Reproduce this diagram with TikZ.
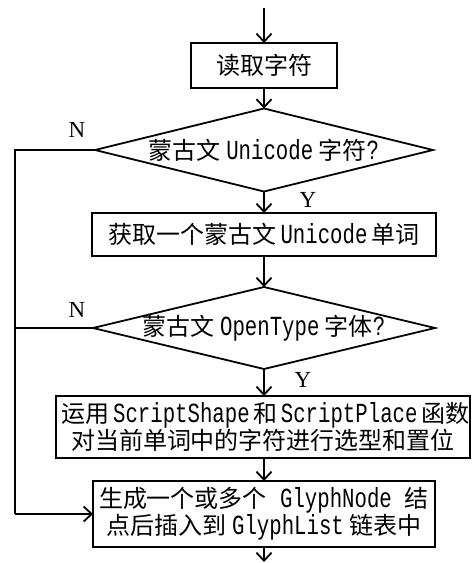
\documentclass[tikz,border=0pt]{standalone}
\usepackage{fontspec}
\setmainfont{Noto Sans CJK SC}
\newfontfamily\mono[Scale=1.15,FakeStretch=0.75]{Liberation Mono}
\newfontfamily\serifl{Liberation Serif}
\usetikzlibrary{shapes.geometric,arrows.meta}
\newcommand\lat[1]{{\mono #1}}
\begin{document}
\begin{tikzpicture}[x=1pt,y=-1pt,
  every node/.style={inner sep=0pt, outer sep=0pt},
  proc/.style={draw, line width=1.8pt, rectangle, align=center, font=\fontsize{24}{27}\selectfont},
  decision/.style={draw, line width=1.8pt, diamond, font=\fontsize{24}{27}\selectfont},
  flow/.style={line width=1.8pt, -{Straight Barb[length=8pt,width=15pt,line width=1.8pt]}},
  link/.style={line width=1.8pt},
  yn/.style={font=\serifl\fontsize{23}{23}\selectfont}
]
\useasboundingbox (0,0) rectangle (472,563);
\coordinate (top) at (264,8);
\coordinate (bot) at (264,562);
\node[proc, minimum width=146pt, minimum height=45pt] (b1) at (264,65.5) {读取字符};
\node[decision, minimum width=338pt, minimum height=83pt] (d1) at (264,150) {\makebox[0pt]{蒙古文 \lat{Unicode} 字符\lat{?}}};
\node[proc, minimum width=344pt, minimum height=43pt] (b2) at (264,234.5) {\makebox[311pt][s]{获取一个蒙古文 \lat{Unicode} 单词}};
\node[decision, minimum width=342pt, minimum height=82pt] (d2) at (264,328) {\makebox[0pt]{蒙古文 \lat{OpenType} 字体\lat{?}}};
\node[proc, minimum width=414pt, minimum height=62pt] (b3) at (263,427) {\makebox[403pt][s]{运用 \lat{ScriptShape} 和 \lat{ScriptPlace} 函数}\\对当前单词中的字符进行选型和置位};
\node[proc, minimum width=342pt, minimum height=66pt] (b4) at (264,514) {\makebox[330pt][s]{生成一个或多个 \lat{GlyphNode} 结}\\\makebox[315pt][s]{点后插入到 \lat{GlyphList} 链表中}};
\node[yn] (n1) at (77,130) {N};
\node[yn] (n2) at (77,310) {N};
\node[yn] (y1) at (308,200) {Y};
\node[yn] (y2) at (303,380) {Y};
\coordinate (c1) at (15,150);
\coordinate (c2) at (15,328);
\coordinate (c3) at (15,514);
\draw[flow] (top) -- (b1.north);
\draw[flow] (b1.south) -- (d1.north);
\draw[flow] (d1.south) -- (b2.north);
\draw[flow] (b2.south) -- (d2.north);
\draw[flow] (d2.south) -- (b2.south |- b3.north);
\draw[flow] (b2.south |- b3.south) -- (b4.north);
\draw[flow] (b4.south) -- (bot);
\draw[link] (d1.west) -- (c1) -- (c3);
\draw[link] (d2.west) -- (c2);
\draw[flow] (c3) -- (b4.west);
\end{tikzpicture}
\end{document}
